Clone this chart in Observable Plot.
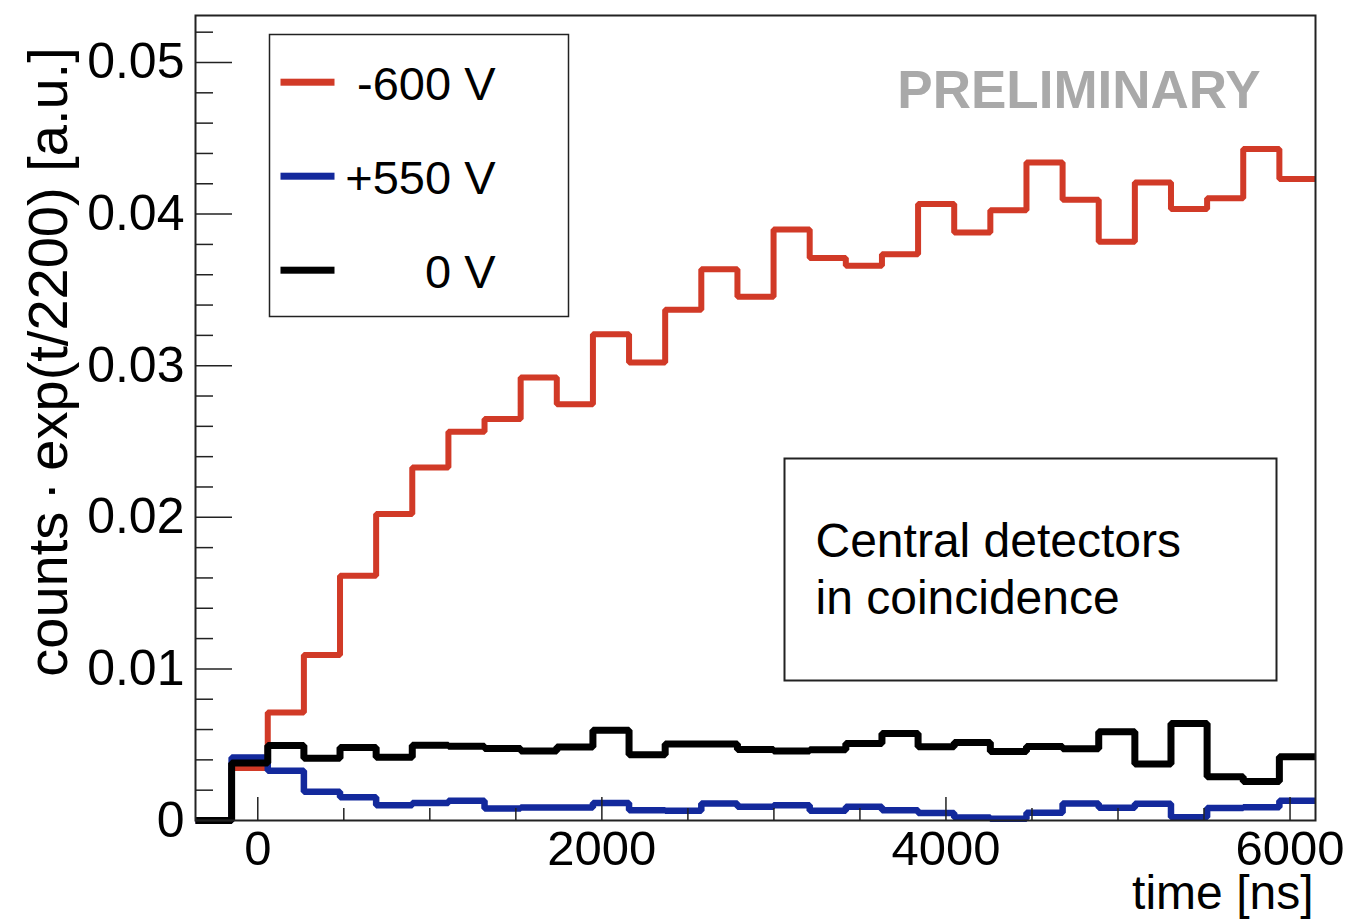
<!DOCTYPE html>
<html>
<head>
<meta charset="utf-8">
<script src="https://cdn.jsdelivr.net/npm/d3@7"></script>
<script src="https://cdn.jsdelivr.net/npm/@observablehq/plot@0.6"></script>
<style>
  html, body { margin: 0; padding: 0; background: #fff; }
  #chart svg { display: block; }
</style>
</head>
<body>
<div id="chart"></div>
<script>
// ---- data ----
const binEdges = [-362, -152, 58, 268, 478, 688, 898, 1108, 1318, 1528, 1738, 1948, 2158, 2368, 2578, 2788,
  2998, 3208, 3418, 3628, 3838, 4048, 4258, 4468, 4678, 4888, 5098, 5308, 5518, 5728, 5938, 6148];

const seriesNames = ["-600 V", "+550 V", "0 V"];

const valuesNeg600 = [0, 0.00346, 0.00712, 0.01091, 0.01614, 0.02021, 0.02329, 0.02564, 0.02648, 0.02922,
  0.02745, 0.03208, 0.03021, 0.03369, 0.03637, 0.03455, 0.03898, 0.03710, 0.03659, 0.03735,
  0.04066, 0.03879, 0.04026, 0.04340, 0.04094, 0.03817, 0.04209, 0.04033, 0.04105, 0.04429, 0.04231];

const valuesPos550 = [0, 0.00416, 0.00328, 0.00189, 0.00154, 0.00101, 0.00115, 0.00130, 0.00079, 0.00086,
  0.00086, 0.00115, 0.00068, 0.00064, 0.00112, 0.00090, 0.00101, 0.00064, 0.00090, 0.00068,
  0.00050, 0.00020, 0.00011, 0.00051, 0.00112, 0.00084, 0.00110, 0.00022, 0.00082, 0.00088, 0.00130];

const values0V = [0, 0.00380, 0.00495, 0.00411, 0.00482, 0.00418, 0.00497, 0.00490, 0.00475, 0.00458,
  0.00485, 0.00596, 0.00433, 0.00504, 0.00504, 0.00468, 0.00458, 0.00466, 0.00508, 0.00574,
  0.00486, 0.00515, 0.00455, 0.00488, 0.00473, 0.00585, 0.00372, 0.00640, 0.00288, 0.00257, 0.00420];

const xTicksMajor = [0, 2000, 4000, 6000];
const xTicksMinor = [500, 1000, 1500, 2500, 3000, 3500, 4500, 5000, 5500];
const yTicksMajor = [0, 0.01, 0.02, 0.03, 0.04, 0.05];
const yTicksMinor = [0.002, 0.004, 0.006, 0.008, 0.012, 0.014, 0.016, 0.018, 0.022, 0.024, 0.026, 0.028,
  0.032, 0.034, 0.036, 0.038, 0.042, 0.044, 0.046, 0.048, 0.052];

const xLabel = "time [ns]";
const yLabel = "counts\u2009·\u2009exp(t/2200) [a.u.]";
const watermark = "PRELIMINARY";
const noteText = "Central detectors\nin coincidence";

// ---- styles ----
const seriesValues = [valuesNeg600, valuesPos550, values0V];
const seriesColors = ["#d13a27", "#13299c", "#000000"];
const seriesWidths = [6, 6.5, 7];
const xDomain = [binEdges[0], binEdges[binEdges.length - 1]];
const yDomain = [0, 0.0531];
const W = 1350, H = 920;
const mL = 195, mR = 35, mT = 15, mB = 100;
const FONT = "'Liberation Sans', Arial, Helvetica, sans-serif";
const axisColor = "#222";

// build step rows (one row per bin start plus closing edge)
const rows = seriesNames.map((name, s) => {
  const vals = seriesValues[s];
  const r = vals.map((v, i) => ({series: name, t: binEdges[i], v}));
  r.push({series: name, t: binEdges[vals.length], v: vals[vals.length - 1]});
  return r;
});

const marks = [];

// histogram lines, drawn red, blue, black
seriesNames.forEach((name, s) => {
  marks.push(Plot.line(rows[s], {
    x: "t", y: "v", curve: "step-after",
    stroke: seriesColors[s], strokeWidth: seriesWidths[s],
    strokeLinejoin: "miter", strokeLinecap: "butt"
  }));
});

// frame
marks.push(Plot.frame({stroke: axisColor, strokeWidth: 2}));

// inward ticks
marks.push(Plot.ruleY(yTicksMinor, {y: d => d, x1: () => xDomain[0], x2: () => xDomain[0], insetRight: -18, stroke: axisColor, strokeWidth: 1.5}));
marks.push(Plot.ruleY(yTicksMajor, {y: d => d, x1: () => xDomain[0], x2: () => xDomain[0], insetRight: -37, stroke: axisColor, strokeWidth: 1.5}));
marks.push(Plot.ruleX(xTicksMinor, {x: d => d, y1: () => 0, y2: () => 0, insetTop: -12, stroke: axisColor, strokeWidth: 1.5}));
marks.push(Plot.ruleX(xTicksMajor, {x: d => d, y1: () => 0, y2: () => 0, insetTop: -23, stroke: axisColor, strokeWidth: 1.5}));

// tick labels
marks.push(Plot.axisY(yTicksMajor, {
  tickSize: 0, tickPadding: 11, fontSize: 50, label: null,
  tickFormat: d => d === 0 ? "0" : d.toFixed(2), fill: "#000"
}));
marks.push(Plot.axisX(xTicksMajor, {
  tickSize: 0, tickPadding: 10, fontSize: 49, label: null,
  tickFormat: d => `${d}`, fill: "#000"
}));

// axis titles
marks.push(Plot.text([xLabel], {
  text: d => d, frameAnchor: "bottom-right", dx: -2, dy: 88,
  textAnchor: "end", lineAnchor: "bottom", fontSize: 48, fill: "#000"
}));
marks.push(Plot.text([yLabel], {
  text: d => d, frameAnchor: "left", dx: -146, dy: -56,
  rotate: -90, textAnchor: "middle", lineAnchor: "middle", fontSize: 56, fill: "#000"
}));

// watermark
marks.push(Plot.text([watermark], {
  text: d => d, frameAnchor: "top-right", dx: -55, dy: 92,
  textAnchor: "end", lineAnchor: "bottom", fontSize: 53, fontWeight: "bold", fill: "#a9a9a9"
}));

// legend box
const legBox = {left: 269, top: 34, right: 568, bottom: 316};
marks.push(Plot.frame({
  insetLeft: legBox.left - mL, insetTop: legBox.top - mT,
  insetRight: (W - mR) - legBox.right, insetBottom: (H - mB) - legBox.bottom,
  stroke: axisColor, strokeWidth: 1.5, fill: "white"
}));
const legFirstY = 81.7, legGap = 94;
seriesNames.forEach((name, s) => {
  const cy = legFirstY + s * legGap;
  marks.push(Plot.frame({
    insetLeft: 280 - mL, insetRight: (W - mR) - 334,
    insetTop: cy - 3.5 - mT, insetBottom: (H - mB) - (cy + 3.5),
    fill: seriesColors[s], stroke: "none"
  }));
  marks.push(Plot.text([name], {
    text: d => d, frameAnchor: "top-left", dx: 495 - mL, dy: cy + 18 - mT,
    textAnchor: "end", lineAnchor: "bottom", fontSize: 47, fill: "#000"
  }));
});

// note box
const noteBox = {left: 784, top: 458, right: 1276, bottom: 680};
marks.push(Plot.frame({
  insetLeft: noteBox.left - mL, insetTop: noteBox.top - mT,
  insetRight: (W - mR) - noteBox.right, insetBottom: (H - mB) - noteBox.bottom,
  stroke: axisColor, strokeWidth: 2, fill: "white"
}));
marks.push(Plot.text([noteText], {
  text: d => d, frameAnchor: "top-left", dx: 815 - mL, dy: 516 - mT,
  textAnchor: "start", lineAnchor: "top", lineHeight: 1.19, fontSize: 48, fill: "#000"
}));

const chart = Plot.plot({
  width: W, height: H,
  marginLeft: mL, marginRight: mR, marginTop: mT, marginBottom: mB,
  x: {domain: xDomain, axis: null},
  y: {domain: yDomain, axis: null},
  style: {fontFamily: FONT, background: "white", color: "#000", overflow: "visible"},
  marks
});
document.getElementById("chart").appendChild(chart);
</script>
</body>
</html>
